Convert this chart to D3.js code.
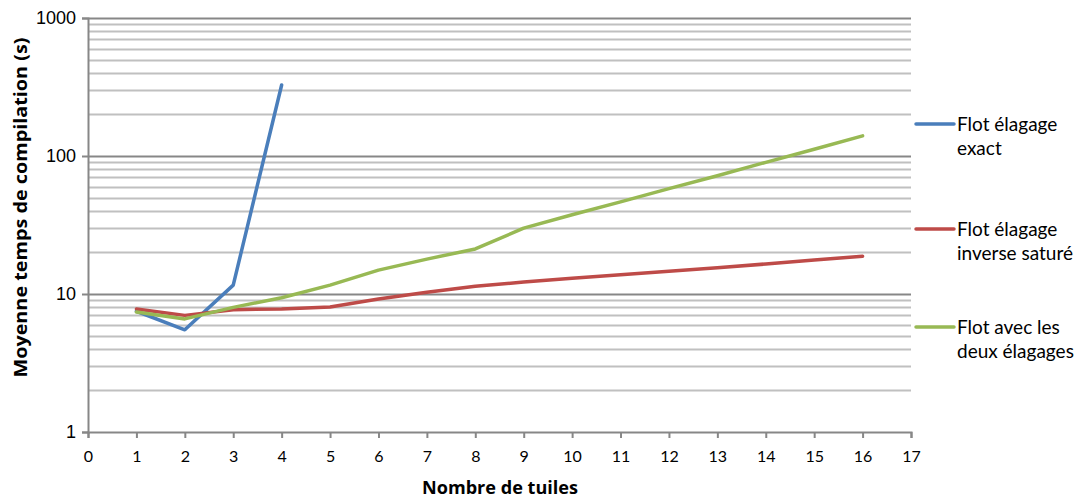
<!DOCTYPE html>
<html><head><meta charset="utf-8">
<script src="https://cdn.jsdelivr.net/npm/d3@7"></script>
<style>body{margin:0;background:#fff;} svg{display:block;}</style>
</head><body>
<svg id="c" width="1083" height="499"></svg>
<script>
const xTicks = [0,1,2,3,4,5,6,7,8,9,10,11,12,13,14,15,16,17];
const yTicks = [1,10,100,1000];
const seriesNames = [["Flot élagage","exact"],["Flot élagage","inverse saturé"],["Flot avec les","deux élagages"]];
const seriesColors = ["#4a7ebb","#be4b48","#98b954"];
const xExact = [1,2,3,4];
const yExact = [7.5,5.5,11.6,327];
const xInv = [1,2,3,4,5,6,7,8,9,10,11,12,13,14,15,16];
const yInv = [7.8,7.0,7.7,7.8,8.05,9.2,10.3,11.4,12.2,13.0,13.8,14.6,15.5,16.5,17.6,18.8];
const xBoth = [1,2,3,4,5,6,7,8,9,10,11,12,13,14,15,16];
const yBoth = [7.4,6.6,8.0,9.4,11.6,14.9,17.9,21.2,30,37.5,46.5,58,72,90,112,140];

const svg = d3.select("#c");
const L=88, R=911, T=18, B=432;
const x = d3.scaleLinear().domain([0,17]).range([L,R]);
const y = d3.scaleLog().domain([1,1000]).range([B,T]);

// minor gridlines
const minor = [];
for (const d of [1,10,100]) for (let k=2;k<=9;k++) minor.push(d*k);
svg.append("g").selectAll("line").data(minor).join("line")
  .attr("x1",L).attr("x2",R).attr("y1",d=>Math.round(y(d))+0.5).attr("y2",d=>Math.round(y(d))+0.5)
  .attr("stroke","#c0c0c0").attr("stroke-width",2);
svg.append("g").selectAll("line").data([10,100,1000]).join("line")
  .attr("x1",L).attr("x2",R).attr("y1",d=>Math.round(y(d))+0.5).attr("y2",d=>Math.round(y(d))+0.5)
  .attr("stroke","#878787").attr("stroke-width",2);

// axes
const xAxis = d3.axisBottom(x).tickValues(xTicks).tickFormat(d3.format("d")).tickSize(6).tickPadding(13);
const gx = svg.append("g").attr("transform",`translate(0,${B})`).call(xAxis);
gx.select(".domain").attr("stroke","#878787").attr("stroke-width",2);
gx.selectAll(".tick line").attr("stroke","#878787").attr("stroke-width",2);
gx.selectAll("text").attr("font-family","Lato, 'Open Sans', sans-serif").attr("font-size",16).attr("fill","#000");

const yAxis = d3.axisLeft(y).tickValues(yTicks).tickFormat(d3.format("d")).tickSize(6).tickPadding(6);
const gy = svg.append("g").attr("transform",`translate(${L},0)`).call(yAxis);
gy.select(".domain").attr("stroke","#878787").attr("stroke-width",2);
gy.selectAll(".tick line").attr("stroke","#878787").attr("stroke-width",2);
gy.selectAll("text").attr("font-family","'Liberation Sans', Arial, sans-serif").attr("font-size",18).attr("fill","#000");

// titles
svg.append("text").attr("x",500).attr("y",494).attr("text-anchor","middle")
  .attr("font-family","'Open Sans', sans-serif").attr("font-weight","bold").attr("font-size",18)
  .attr("textLength",156).attr("lengthAdjust","spacingAndGlyphs").text("Nombre de tuiles");
svg.append("text").attr("transform",`translate(27,207.5) rotate(-90)`).attr("text-anchor","middle")
  .attr("font-family","'Open Sans', sans-serif").attr("font-weight","bold").attr("font-size",18)
  .attr("textLength",340).attr("lengthAdjust","spacingAndGlyphs").text("Moyenne temps de compilation (s)");

// lines
const series = [[xExact,yExact],[xInv,yInv],[xBoth,yBoth]];
const line = d3.line().x(d=>x(d[0])).y(d=>y(d[1]));
series.forEach((s,i)=>{
  const pts = s[0].map((v,j)=>[v,s[1][j]]);
  svg.append("path").datum(pts).attr("d",line).attr("fill","none")
    .attr("stroke",seriesColors[i]).attr("stroke-width",3.5).attr("stroke-linejoin","round").attr("stroke-linecap","round");
});

// legend
const legY = [124,229,327];
seriesNames.forEach((n,i)=>{
  svg.append("line").attr("x1",916).attr("x2",954).attr("y1",legY[i]).attr("y2",legY[i])
    .attr("stroke",seriesColors[i]).attr("stroke-width",3.5).attr("stroke-linecap","round");
  const t = svg.append("text").attr("x",957).attr("y",legY[i]+7)
    .attr("font-family","Lato, sans-serif").attr("font-size",19).attr("fill","#000");
  t.append("tspan").attr("x",957).text(n[0]);
  t.append("tspan").attr("x",957).attr("dy",24).text(n[1]);
});
</script>
</body></html>
